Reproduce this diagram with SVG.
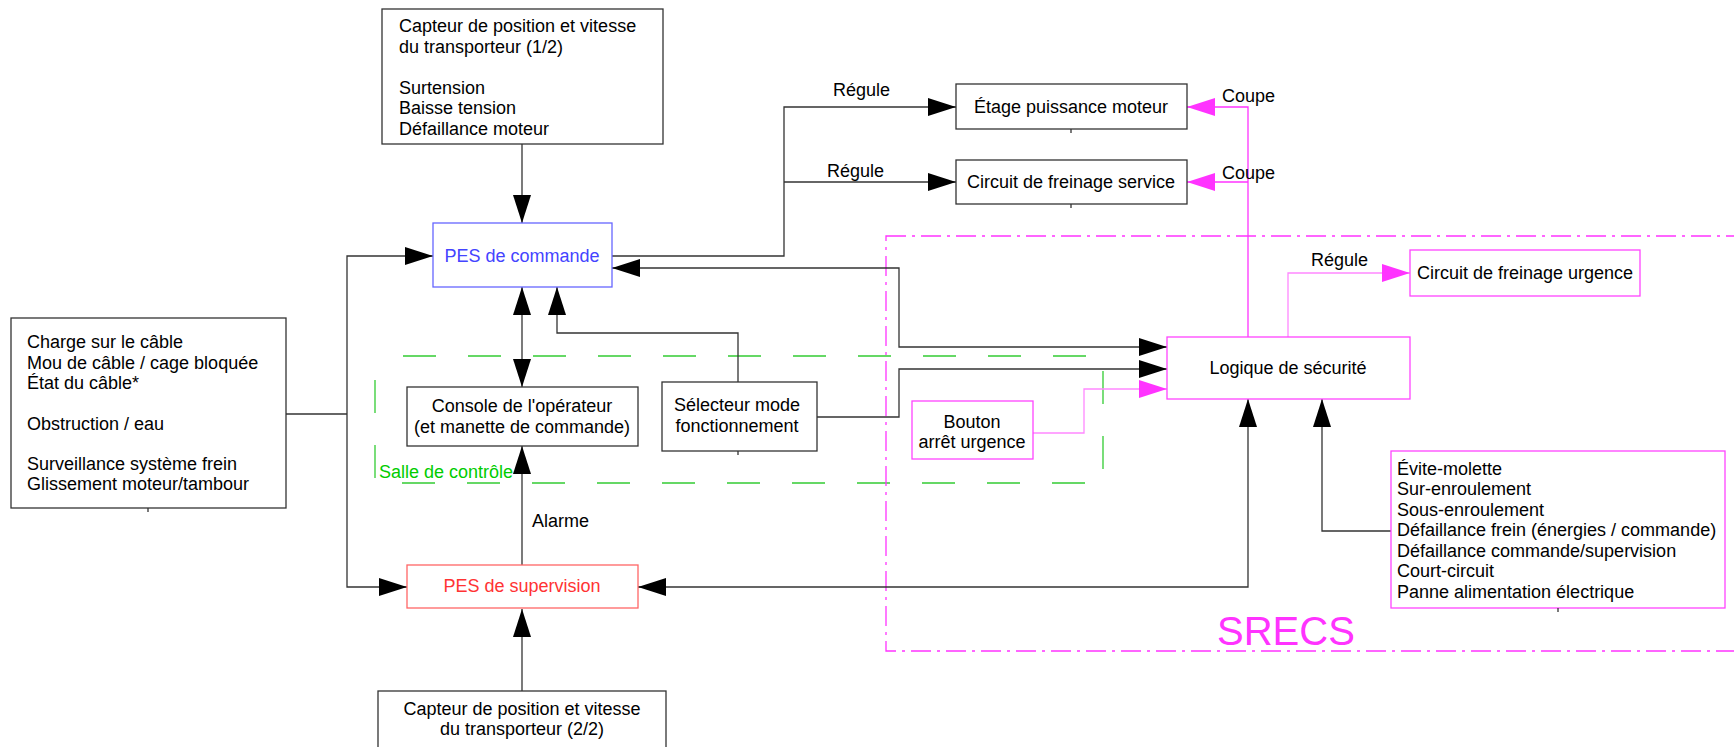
<svg xmlns="http://www.w3.org/2000/svg" width="1734" height="747" viewBox="0 0 1734 747">
<style>
text{font-family:"Liberation Sans",Arial,sans-serif;font-size:18px;fill:#000}
.box{fill:#fff;stroke:#333;stroke-width:1.3}
.mbox{fill:#fff;stroke:#ff44ff;stroke-width:1.3}
.c{fill:none;stroke:#333;stroke-width:1.3}
.m{fill:none;stroke:#ff33ff;stroke-width:1.3}
.ml{fill:none;stroke:#ff88ff;stroke-width:1.3}
.mid{text-anchor:middle}
</style>
<defs>
<marker id="a" markerUnits="userSpaceOnUse" markerWidth="28" markerHeight="18" refX="28" refY="9" orient="auto-start-reverse"><path d="M0,0 L28,9 L0,18 z" fill="#000"/></marker>
<marker id="am" markerUnits="userSpaceOnUse" markerWidth="28" markerHeight="18" refX="28" refY="9" orient="auto-start-reverse"><path d="M0,0 L28,9 L0,18 z" fill="#ff33ff"/></marker>
</defs>
<rect width="1734" height="747" fill="#fff"/>

<g id="zones">
<rect x="375" y="356" width="728" height="127" fill="none" stroke="#33cc33" stroke-width="1.3" stroke-dasharray="33 32" stroke-dashoffset="-28"/>
<text x="379" y="478" style="fill:#00cc00">Salle de contrôle</text>
<rect x="886" y="236" width="900" height="415" fill="none" stroke="#ff33ff" stroke-width="1.3" stroke-dasharray="20 6 3 6"/>
<text x="1217" y="645" style="fill:#ff33ff;font-size:40px">SRECS</text>
</g>

<g id="connectors">
<path class="c" d="M522,144 V223" marker-end="url(#a)"/>
<path class="c" d="M286,414 H347"/>
<path class="c" d="M433,256 H347 V587 H407" marker-start="url(#a)" marker-end="url(#a)"/>
<path class="c" d="M522,287 V387" marker-start="url(#a)" marker-end="url(#a)"/>
<path class="c" d="M522,565 V446" marker-end="url(#a)"/>
<path class="c" d="M522,691 V609" marker-end="url(#a)"/>
<path class="c" d="M738,382 V333 H557 V287" marker-end="url(#a)"/>
<path class="c" d="M817,417 H899 V369 H1167" marker-end="url(#a)"/>
<path class="c" d="M612,268 H899 V347 H1167" marker-start="url(#a)" marker-end="url(#a)"/>
<path class="c" d="M612,256 H784 V107 H956" marker-end="url(#a)"/>
<path class="c" d="M784,182 H956" marker-end="url(#a)"/>
<path class="m" d="M1248,337 V107 H1187" marker-end="url(#am)"/>
<path class="m" d="M1248,182 H1187" marker-end="url(#am)"/>
<path class="ml" d="M1288,337 V273 H1410" marker-end="url(#am)"/>
<path class="ml" d="M1033,433 H1084 V389 H1167" marker-end="url(#am)"/>
<path class="c" d="M638,587 H1248 V399" marker-start="url(#a)" marker-end="url(#a)"/>
<path class="c" d="M1391,531 H1322 V399" marker-end="url(#a)"/>
<text x="833" y="96">Régule</text>
<text x="827" y="177">Régule</text>
<text x="1222" y="102">Coupe</text>
<text x="1222" y="179">Coupe</text>
<text x="1311" y="266">Régule</text>
<text x="532" y="527">Alarme</text>
</g>

<g id="capteur1">
<rect class="box" x="382" y="9" width="281" height="135"/>
<text x="399" y="32">Capteur de position et vitesse</text>
<text x="399" y="53">du transporteur (1/2)</text>
<text x="399" y="94">Surtension</text>
<text x="399" y="114">Baisse tension</text>
<text x="399" y="135">Défaillance moteur</text>
</g>

<g id="pes-commande">
<rect x="433" y="223" width="179" height="64" fill="#fff" stroke="#6666ff" stroke-width="1.3"/>
<text class="mid" x="522" y="262" style="fill:#4444ff">PES de commande</text>
</g>

<g id="entrees">
<rect class="box" x="11" y="318" width="275" height="190"/>
<path class="c" d="M148,508 V512"/>
<text x="27" y="348">Charge sur le câble</text>
<text x="27" y="369">Mou de câble / cage bloquée</text>
<text x="27" y="389">État du câble*</text>
<text x="27" y="430">Obstruction / eau</text>
<text x="27" y="470">Surveillance système frein</text>
<text x="27" y="490">Glissement moteur/tambour</text>
</g>

<g id="console">
<rect class="box" x="407" y="387" width="231" height="59"/>
<text class="mid" x="522" y="412">Console de l'opérateur</text>
<text class="mid" x="522" y="433">(et manette de commande)</text>
</g>

<g id="selecteur">
<rect class="box" x="662" y="382" width="155" height="69"/>
<path class="c" d="M738,451 V455"/>
<text class="mid" x="737" y="411">Sélecteur mode</text>
<text class="mid" x="737" y="432">fonctionnement</text>
</g>

<g id="bouton">
<rect class="mbox" x="912" y="401" width="121" height="58"/>
<text class="mid" x="972" y="428">Bouton</text>
<text class="mid" x="972" y="448">arrêt urgence</text>
</g>

<g id="etage">
<rect class="box" x="956" y="84" width="231" height="45"/>
<path class="c" d="M1071,129 V133"/>
<text class="mid" x="1071" y="113">Étage puissance moteur</text>
</g>

<g id="frein-service">
<rect class="box" x="956" y="160" width="231" height="44"/>
<path class="c" d="M1071,204 V208"/>
<text class="mid" x="1071" y="188">Circuit de freinage service</text>
</g>

<g id="logique">
<rect class="mbox" x="1167" y="337" width="243" height="62"/>
<text class="mid" x="1288" y="374">Logique de sécurité</text>
</g>

<g id="frein-urgence">
<rect class="mbox" x="1410" y="250" width="230" height="46"/>
<text class="mid" x="1525" y="279">Circuit de freinage urgence</text>
</g>

<g id="detections">
<rect class="mbox" x="1391" y="451" width="334" height="157"/>
<path class="c" d="M1558,608 V612"/>
<text x="1397" y="475">Évite-molette</text>
<text x="1397" y="495">Sur-enroulement</text>
<text x="1397" y="516">Sous-enroulement</text>
<text x="1397" y="536">Défaillance frein (énergies / commande)</text>
<text x="1397" y="557">Défaillance commande/supervision</text>
<text x="1397" y="577">Court-circuit</text>
<text x="1397" y="598">Panne alimentation électrique</text>
</g>

<g id="pes-supervision">
<rect x="407" y="565" width="231" height="43" fill="#fff" stroke="#ff6666" stroke-width="1.3"/>
<text class="mid" x="522" y="592" style="fill:#ff3333">PES de supervision</text>
</g>

<g id="capteur2">
<rect class="box" x="378" y="691" width="288" height="70"/>
<text class="mid" x="522" y="715">Capteur de position et vitesse</text>
<text class="mid" x="522" y="735">du transporteur (2/2)</text>
</g>
</svg>
